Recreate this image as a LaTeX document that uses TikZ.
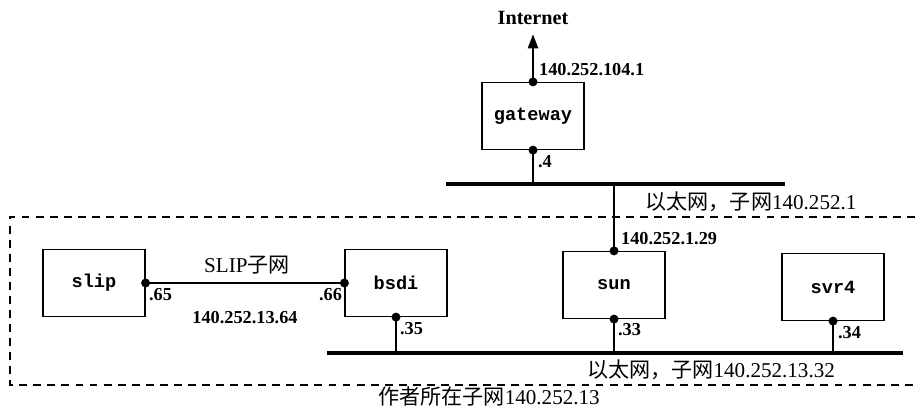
\documentclass[tikz,border=0pt]{standalone}
\usepackage{fontspec}
\setmainfont{Liberation Serif}
\setmonofont{Liberation Mono}
\newfontfamily\cjk{Noto Sans CJK SC}
\usetikzlibrary{arrows.meta,positioning}

\tikzset{
	host/.style = {draw, line width=0.7pt, minimum width=2.04cm, minimum height=1.34cm, font=\fontsize{10.6}{12}\selectfont\ttfamily\bfseries},
	addr/.style = {font=\fontsize{10.4}{12}\selectfont\bfseries, inner sep=1pt},
	netlabel/.style = {font=\fontsize{12}{14}\selectfont, inner sep=1pt},
	ether/.style = {line width=2.3pt},
	tap/.style = {line width=0.7pt}
}

\begin{document}
\begin{tikzpicture}[x=0.02cm, y=-0.02cm]
	\useasboundingbox (0,0) rectangle (915,408);
	% hosts
	\node [host] (gateway) at (533,116) {gateway};
	\node [host] (slip) at (94,283) {slip};
	\node [host] (bsdi) at (396,283) {bsdi};
	\node [host] (sun) at (614,285) {sun};
	\node [host] (svr4) at (833,287) {svr4};
	% ethernets
	\coordinate (topl) at (446,184);
	\coordinate (topr) at (785,184);
	\coordinate (botl) at (327,353);
	\coordinate (botr) at (903,353);
	\draw [ether] (topl) -- (topr);
	\draw [ether] (botl) -- (botr);
	% internet
	\node [font=\fontsize{11.5}{13}\selectfont\bfseries] (inet) at (533,18) {Internet};
	\draw [tap, -{Triangle[length=8pt, width=6pt]}, shorten >=2pt] (gateway.north) -- (inet.south);
	\node [addr, right] (ipgw) at (537,70) {140.252.104.1};
	\draw [tap] (gateway.south) -- (gateway.south |- topl);
	\node [addr, right] (dot4) at (536,162) {.4};
	\node [netlabel] (net1) at (751,202) {{\cjk 以太网，子网}140.252.1};
	% sun on both nets
	\draw [tap] (sun.north |- topl) -- (sun.north);
	\node [addr, right] (ipsun) at (619,239) {140.252.1.29};
	% slip link
	\draw [tap] (slip.east) -- (bsdi.west);
	\node [netlabel] (slipnet) at (247,265) {SLIP{\cjk 子网}};
	\node [addr] (ipslip) at (245,318) {140.252.13.64};
	\node [addr, right] (dot65) at (147,295) {.65};
	\node [addr, left] (dot66) at (344,295) {.66};
	% taps on lower net
	\draw [tap] (bsdi.south) -- (bsdi.south |- botl);
	\draw [tap] (sun.south) -- (sun.south |- botl);
	\draw [tap] (svr4.south) -- (svr4.south |- botl);
	\node [addr, right] (dot35) at (398,329) {.35};
	\node [addr, right] (dot33) at (616,330) {.33};
	\node [addr, right] (dot34) at (836,333) {.34};
	\node [netlabel] (net13) at (711,370) {{\cjk 以太网，子网}140.252.13.32};
	% interface dots
	\foreach \p in {gateway.north, gateway.south, slip.east, bsdi.west, bsdi.south, sun.north, sun.south, svr4.south}
		\fill (\p) circle (4.5);
	% author's subnet
	\draw [line width=0.7pt, dash pattern=on 4.5pt off 3.5pt] (915,217) -- (10,217) -- (10,385) -- (915,385);
	\node [netlabel, anchor=south, inner sep=0pt] (mynet) at (489,407) {{\cjk 作者所在子网}140.252.13};
\end{tikzpicture}
\end{document}
